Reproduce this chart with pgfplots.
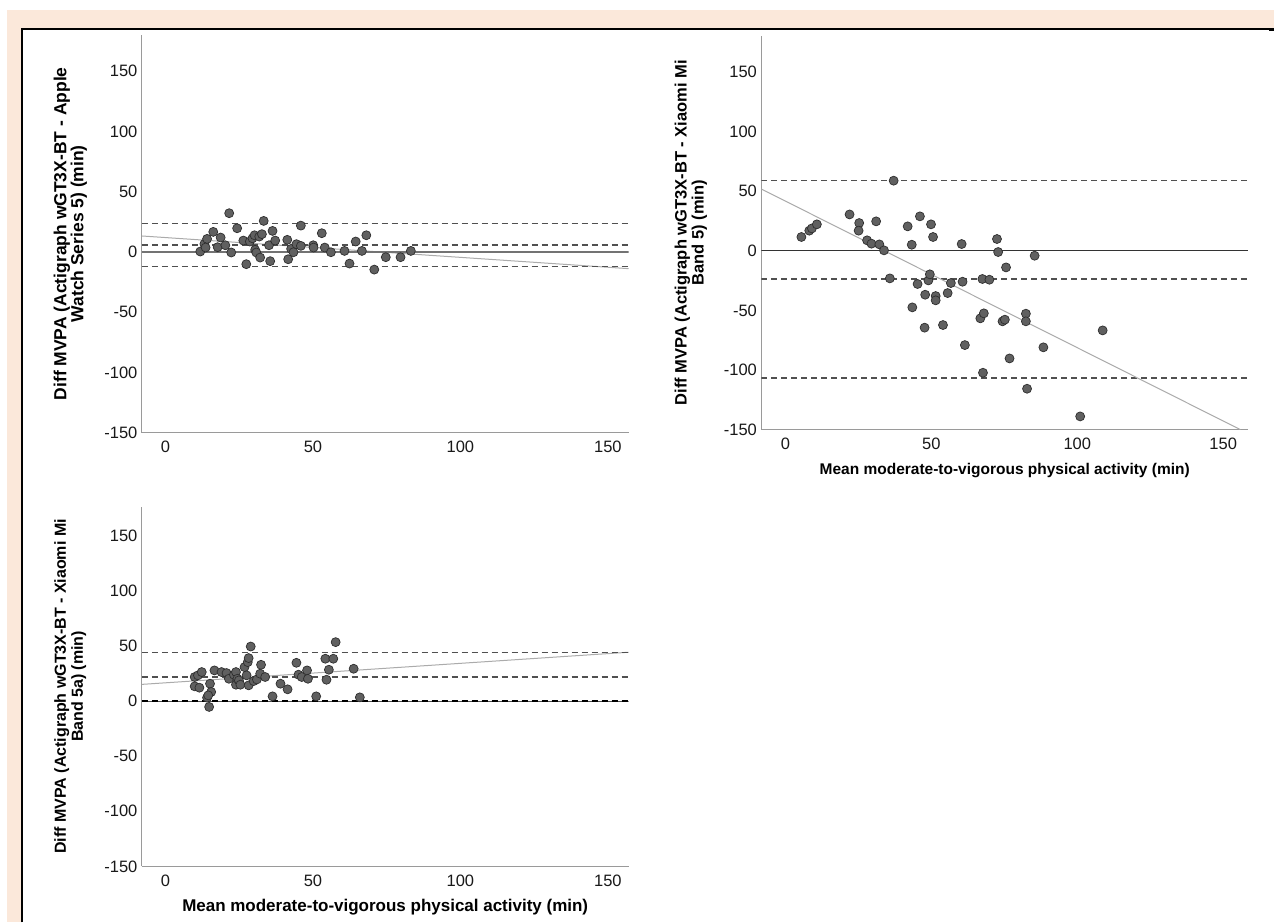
\documentclass[border=0pt]{standalone}
\usepackage{fontspec}
\setmainfont{Liberation Sans}
\usepackage{pgfplots}
\pgfplotsset{compat=1.18}
\definecolor{peach}{HTML}{FBE8DA}
\definecolor{ptfill}{HTML}{606060}
\definecolor{ptdraw}{HTML}{2E2E2E}
\definecolor{axgray}{HTML}{9A9A9A}
\definecolor{dashgray}{HTML}{505050}
\definecolor{reggray}{HTML}{ABABAB}

\pgfplotstableread{
x y
11.8 0.3
13.2 6.6
14.1 10.8
13.6 3.6
16.2 16.6
17.7 3.9
18.7 11.9
20.3 5.5
21.6 32.1
22.3 -0.5
24.3 19.6
26.4 9.4
27.4 -10.2
28.6 8.6
29.5 11.3
30.2 13.8
30.4 1.7
30.8 -0.5
31.8 12.7
32.1 -4.7
32.7 14.7
33.3 25.7
35.1 5.5
35.5 -7.7
36.3 17.4
37.2 9.4
41.3 10.0
41.6 -6.1
42.6 2.5
43.4 -0.3
44.4 6.4
45.9 21.8
45.9 5.0
50.1 5.5
50.2 3.6
53.0 15.5
54.0 3.6
56.1 -0.3
60.7 0.8
62.4 -9.7
64.5 8.6
66.6 0.8
68.1 13.8
70.8 -14.7
74.7 -4.4
79.7 -4.4
83.2 0.8
}\dataA

\pgfplotstableread{
x y
37.1 58.7
5.5 11.5
8.2 16.8
9.1 18.7
10.8 22.1
22.0 30.4
25.3 23.2
25.1 16.8
28.0 8.7
29.5 5.9
31.1 24.6
32.2 5.3
33.8 0.3
35.8 -23.2
41.9 20.4
43.3 5.0
46.1 28.8
43.5 -47.5
45.3 -27.9
47.9 -36.9
47.7 -64.5
49.0 -24.9
49.5 -19.8
49.9 22.1
50.6 11.5
51.5 -38.0
51.5 -41.6
54.0 -62.3
55.6 -35.5
56.7 -27.1
60.4 5.6
60.7 -26.0
61.5 -79.1
66.8 -56.7
67.5 -23.7
68.0 -52.5
67.7 -102.3
69.9 -24.3
72.5 9.8
72.9 -1.1
74.4 -59.2
75.2 -57.8
75.6 -14.0
76.8 -90.3
82.4 -52.8
82.4 -59.2
82.8 -115.7
85.4 -4.2
88.4 -81.0
101.0 -138.9
108.7 -66.8
}\dataB

\pgfplotstableread{
x y
9.9 22.1
9.9 13.6
11.5 12.4
11.0 23.6
12.3 26.6
14.1 3.3
14.8 -5.1
15.1 16.0
15.5 8.5
14.5 5.4
16.6 28.1
19.0 26.6
20.7 25.7
21.5 20.5
23.2 24.2
23.9 26.6
23.9 15.1
24.4 20.5
24.9 19.0
25.4 15.1
26.8 31.1
27.5 23.6
27.9 35.6
28.2 39.3
28.9 49.8
28.2 14.5
29.9 18.4
31.0 19.9
32.1 25.1
32.4 33.2
33.8 22.1
36.3 4.5
39.0 16.0
41.4 10.9
44.4 35.0
45.1 24.2
46.2 22.1
48.0 28.1
48.3 20.5
51.1 4.5
54.2 38.7
54.6 19.6
55.4 28.7
56.9 38.7
57.7 53.8
63.8 29.6
65.9 3.6
}\dataC

\pgfplotsset{
  ba/.style={
    scale only axis,
    axis x line*=bottom, axis y line*=left,
    axis line style={draw=axgray, line width=1.1pt, -},
    major tick length=0pt,
    xtick={0,50,100,150}, xticklabels={0,50,100,150},
    ytick={-150,-100,-50,0,50,100,150},
    yticklabels={-150,-100,-50,0,50,100,150},
    tick label style={font=\fontsize{16.5}{16.5}\selectfont, text=black!90},
    xticklabel style={yshift=-5pt},
    yticklabel style={xshift=-1pt},
    ymin=-150,
    width=487pt,
  },
  pts/.style={only marks, mark=*, mark size=4.5pt,
    mark options={fill=ptfill, draw=ptdraw, line width=0.7pt}},
  dsh/.style={dashgray, line width=1.3pt, dash pattern=on 6pt off 4pt},
  reg/.style={reggray, line width=1pt},
}

\begin{document}
\begin{tikzpicture}
\fill[white] (0pt,0pt) rectangle (1275pt,923pt);
\fill[peach] (7pt,0pt) rectangle (21.5pt,913pt);
\fill[peach] (7pt,894pt) rectangle (1275pt,913pt);
\draw[black, line width=2pt] (22pt,0pt) -- (22pt,894pt) -- (1275pt,894pt);
\fill[black] (1270pt,892pt) rectangle (1275pt,895pt);

% Panel 1
\begin{axis}[ba, at={(142pt,490pt)}, anchor=south west,
  height=398pt, xmin=-8, xmax=157, ymax=180,
  ylabel={Diff MVPA (Actigraph wGT3X-BT - Apple\\Watch Series 5) (min)},
  ylabel style={at={(axis description cs:-0.147,0.5)}, anchor=center, rotate=0,
    align=center, font=\fontsize{17.5}{17}\selectfont\bfseries},
]
\addplot[reg] coordinates {(-8,13.2) (157,-13.9)};
\addplot[gray!90!black, line width=2pt] coordinates {(-8,0) (157,0)};
\addplot[dsh] coordinates {(-8,23.8) (157,23.8)};
\addplot[dsh] coordinates {(-8,5.8) (157,5.8)};
\addplot[dsh] coordinates {(-8,-12.2) (157,-12.2)};
\addplot[pts] table[x=x,y=y] {\dataA};
\end{axis}

% Panel 2
\begin{axis}[ba, at={(762pt,493pt)}, anchor=south west,
  height=394pt, xmin=-8.2, xmax=158.5, ymax=180,
  xlabel={Mean moderate-to-vigorous physical activity (min)},
  xlabel style={at={(axis description cs:0.5,-0.103)}, anchor=center,
    font=\fontsize{15.5}{16}\selectfont\bfseries},
  ylabel={Diff MVPA (Actigraph wGT3X-BT - Xiaomi Mi\\Band 5) (min)},
  ylabel style={at={(axis description cs:-0.145,0.5)}, anchor=center, rotate=0,
    align=center, font=\fontsize{16.5}{17}\selectfont\bfseries},
]
\addplot[black!80, line width=1.4pt] coordinates {(-8.2,0) (158.5,0)};
\addplot[dsh] coordinates {(-8.2,58.9) (158.5,58.9)};
\addplot[dsh] coordinates {(-8.2,-23.7) (158.5,-23.7)};
\addplot[dsh] coordinates {(-8.2,-106.7) (158.5,-106.7)};
\addplot[reg] coordinates {(-8.2,51.7) (155.9,-150)};
\addplot[pts] table[x=x,y=y] {\dataB};
\end{axis}

% Panel 3
\begin{axis}[ba, at={(142pt,56pt)}, anchor=south west,
  height=360pt, xmin=-8, xmax=157, ymax=177,
  xlabel={Mean moderate-to-vigorous physical activity (min)},
  xlabel style={at={(axis description cs:0.5,-0.114)}, anchor=center,
    font=\fontsize{17}{17}\selectfont\bfseries},
  ylabel={Diff MVPA (Actigraph wGT3X-BT - Xiaomi Mi\\Band 5a) (min)},
  ylabel style={at={(axis description cs:-0.147,0.5)}, anchor=center, rotate=0,
    align=center, font=\fontsize{16}{17}\selectfont\bfseries},
]
\addplot[reg] coordinates {(-8,15.4) (157,44.6)};
\addplot[dsh] coordinates {(-8,44.2) (157,44.2)};
\addplot[dsh] coordinates {(-8,22.1) (157,22.1)};
\addplot[black!70, line width=1.3pt] coordinates {(-8,0) (157,0)};
\addplot[black, line width=2pt, dash pattern=on 6pt off 4pt] coordinates {(-8,0.3) (157,0.3)};
\addplot[pts] table[x=x,y=y] {\dataC};
\end{axis}
\end{tikzpicture}
\end{document}
